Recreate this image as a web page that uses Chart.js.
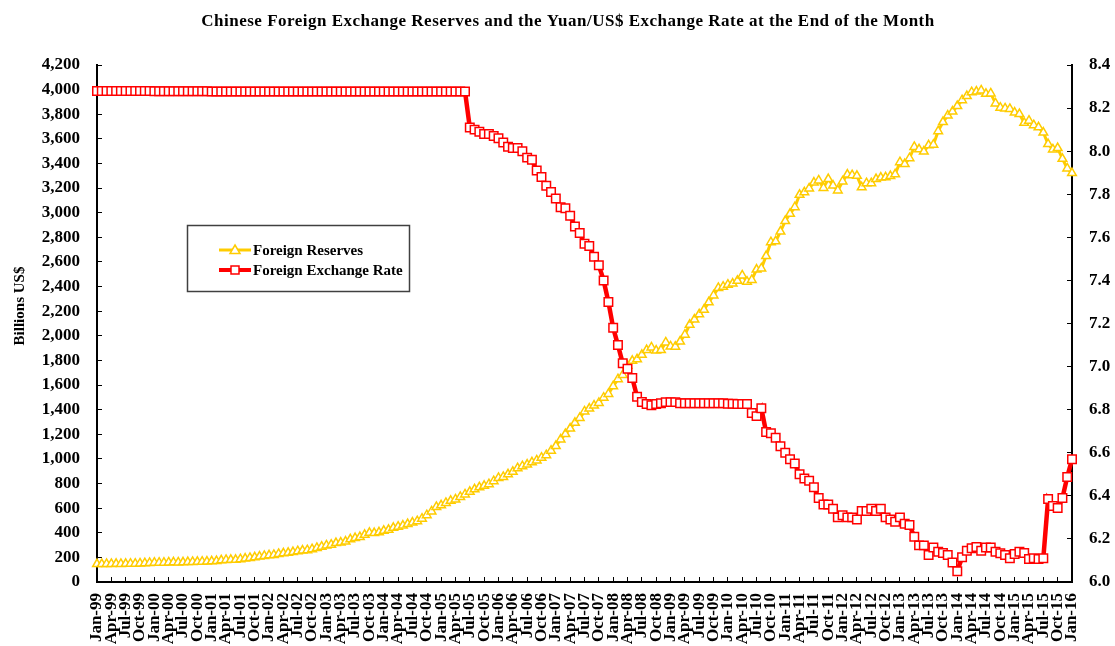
<!DOCTYPE html>
<html><head><meta charset="utf-8">
<script src="https://cdn.jsdelivr.net/npm/chart.js@4.4.1/dist/chart.umd.min.js"></script>
<style>html,body{margin:0;padding:0;background:#fff;overflow:hidden}#wrap{position:relative;width:1115px;height:646px}</style>
</head><body><div id="wrap"><canvas id="c" width="1115" height="646"></canvas></div>
<script>
const TITLE = 'Chinese Foreign Exchange Reserves and the Yuan/US$ Exchange Rate at the End of the Month';
const Y_TITLE = 'Billions US$';
const MONTHS = ['Jan','Feb','Mar','Apr','May','Jun','Jul','Aug','Sep','Oct','Nov','Dec'];
const YEARS = ['99','00','01','02','03','04','05','06','07','08','09','10','11','12','13','14','15','16'];
const categories = [];
YEARS.forEach(function (y, yi) {
  MONTHS.forEach(function (m, mi) {
    if (yi === YEARS.length - 1 && mi > 0) return;
    categories.push(m + '-' + y);
  });
});

// Foreign reserves, billions US$ (left axis)
const reserves = [
  145.3,146.0,146.6,147.0,147.3,147.2,147.9,148.5,149.2,151.0,152.9,154.7,
  157.0,157.1,156.8,158.5,160.0,158.6,160.0,161.6,162.7,163.9,164.9,165.6,
  168.3,170.1,175.8,178.8,180.3,180.0,185.3,190.0,195.1,200.8,207.0,212.2,
  217.0,220.0,228.0,233.0,237.0,242.8,250.0,255.0,258.6,267.0,277.0,286.4,
  297.0,303.0,316.1,320.0,329.0,346.5,356.5,364.7,383.8,400.0,398.0,403.3,
  415.7,424.1,439.8,449.8,458.0,470.6,483.0,494.3,514.5,542.5,573.3,609.9,
  623.5,642.6,659.1,670.3,691.0,711.0,732.7,753.3,769.0,781.4,794.4,818.9,
  845.2,853.7,875.1,895.0,925.0,941.1,954.5,972.0,987.9,1009.6,1030.6,1066.3,
  1104.7,1158.0,1202.0,1246.7,1292.7,1332.6,1385.2,1408.6,1433.6,1454.9,1497.0,1528.2,
  1589.8,1647.1,1682.2,1756.7,1797.0,1808.8,1845.2,1884.2,1905.6,1879.7,1884.7,1946.0,
  1913.5,1912.1,1953.7,2008.9,2089.5,2131.6,2174.6,2210.8,2272.6,2328.3,2388.9,2399.2,
  2415.2,2424.6,2447.1,2490.5,2439.5,2454.3,2538.6,2547.8,2648.3,2760.9,2767.8,2847.3,
  2931.7,2991.4,3044.7,3145.3,3166.2,3197.5,3245.3,3262.5,3201.7,3273.8,3220.9,3181.1,
  3253.6,3309.6,3305.0,3299.4,3206.1,3240.0,3240.0,3272.9,3285.1,3287.4,3297.7,3311.6,
  3410.0,3395.4,3442.6,3534.5,3514.8,3496.7,3547.8,3553.0,3662.7,3736.6,3789.5,3821.3,
  3866.4,3913.7,3948.1,3978.8,3983.9,3993.2,3966.3,3968.8,3887.7,3852.9,3847.4,3843.0,
  3813.4,3801.5,3730.0,3748.1,3711.1,3693.8,3651.3,3557.4,3514.1,3525.5,3438.3,3360.0,
  3322.0
];

// Yuan per US$ (right axis)
const exchangeRate = [
  8.279,8.279,8.279,8.279,8.279,8.279,8.279,8.279,8.279,8.279,8.279,8.279,
  8.278,8.278,8.278,8.278,8.278,8.278,8.278,8.278,8.278,8.278,8.278,8.278,
  8.277,8.277,8.277,8.277,8.277,8.277,8.277,8.277,8.277,8.277,8.277,8.277,
  8.277,8.277,8.277,8.277,8.277,8.277,8.277,8.277,8.277,8.277,8.277,8.277,
  8.277,8.277,8.277,8.277,8.277,8.277,8.277,8.277,8.277,8.277,8.277,8.277,
  8.277,8.277,8.277,8.277,8.277,8.277,8.277,8.277,8.277,8.277,8.277,8.277,
  8.277,8.277,8.277,8.277,8.277,8.277,8.11,8.10,8.09,8.08,8.08,8.07,
  8.06,8.04,8.02,8.015,8.015,8.00,7.97,7.96,7.91,7.88,7.84,7.81,
  7.78,7.74,7.735,7.70,7.65,7.62,7.57,7.56,7.51,7.47,7.40,7.30,
  7.18,7.10,7.015,6.99,6.947,6.86,6.836,6.826,6.82,6.826,6.83,6.835,
  6.835,6.835,6.83,6.83,6.83,6.83,6.83,6.83,6.83,6.83,6.83,6.83,
  6.827,6.827,6.826,6.826,6.826,6.785,6.77,6.807,6.696,6.69,6.67,6.63,
  6.60,6.57,6.55,6.50,6.48,6.47,6.44,6.39,6.36,6.36,6.34,6.30,
  6.31,6.30,6.30,6.29,6.33,6.33,6.34,6.33,6.34,6.30,6.29,6.28,
  6.30,6.27,6.265,6.21,6.17,6.17,6.125,6.16,6.14,6.135,6.125,6.09,
  6.05,6.115,6.145,6.157,6.163,6.145,6.16,6.16,6.14,6.133,6.125,6.11,
  6.13,6.14,6.135,6.107,6.11,6.107,6.11,6.385,6.353,6.343,6.39,6.487,
  6.57
];

const leftTicks = { min: 0, max: 4200, step: 200 };
const rightTicks = { min: 6.0, max: 8.4, step: 0.1 };
const SERIES_NAMES = ['Foreign Reserves', 'Foreign Exchange Rate'];

const YELLOW = '#FFCC00';
const RED = '#FF0000';
const SERIF = '"Liberation Serif","Times New Roman",Times,serif';

const textPlugin = {
  id: 'refText',
  afterDraw(chart) {
    const ctx = chart.ctx;
    ctx.save();
    ctx.font = 'bold 17px ' + SERIF;
    if ('letterSpacing' in ctx) ctx.letterSpacing = '0.5px';
    ctx.fillStyle = '#000';
    ctx.textAlign = 'center';
    ctx.textBaseline = 'middle';
    ctx.fillText(TITLE, 568, 22);
    if ('letterSpacing' in ctx) ctx.letterSpacing = '0px';
    ctx.translate(20, 306);
    ctx.rotate(-Math.PI / 2);
    ctx.font = 'bold 15px ' + SERIF;
    ctx.fillText(Y_TITLE, 0, 0);
    ctx.restore();
  }
};

const legendPlugin = {
  id: 'refLegend',
  afterDraw(chart) {
    const ctx = chart.ctx;
    ctx.save();
    ctx.strokeStyle = '#404040';
    ctx.lineWidth = 1.5;
    ctx.strokeRect(187.5, 225.5, 222, 66);
    const rows = [
      { y: 250, color: YELLOW, shape: 'tri', lw: 3 },
      { y: 270, color: RED, shape: 'rect', lw: 4 }
    ];
    rows.forEach(function (r, i) {
      ctx.strokeStyle = r.color;
      ctx.lineWidth = r.lw;
      ctx.beginPath();
      ctx.moveTo(219, r.y);
      ctx.lineTo(251, r.y);
      ctx.stroke();
      ctx.fillStyle = '#fff';
      ctx.lineWidth = 1.5;
      ctx.beginPath();
      if (r.shape === 'tri') {
        ctx.moveTo(235, r.y - 5);
        ctx.lineTo(240, r.y + 3.5);
        ctx.lineTo(230, r.y + 3.5);
        ctx.closePath();
      } else {
        ctx.rect(231, r.y - 4, 8, 8);
      }
      ctx.fill();
      ctx.stroke();
      ctx.fillStyle = '#000';
      ctx.font = 'bold 15px ' + SERIF;
      ctx.textAlign = 'left';
      ctx.textBaseline = 'middle';
      ctx.fillText(SERIES_NAMES[i], 253, r.y + 1);
    });
    ctx.restore();
  }
};

new Chart(document.getElementById('c'), {
  type: 'line',
  data: {
    labels: categories,
    datasets: [
      {
        label: SERIES_NAMES[0],
        data: reserves,
        yAxisID: 'y',
        order: 2,
        borderColor: YELLOW,
        borderWidth: 3,
        pointStyle: 'triangle',
        pointRadius: 5,
        pointBorderWidth: 1.5,
        pointBackgroundColor: '#fff',
        pointBorderColor: YELLOW,
        tension: 0,
        clip: false
      },
      {
        label: SERIES_NAMES[1],
        data: exchangeRate,
        yAxisID: 'y1',
        order: 1,
        borderColor: RED,
        borderWidth: 4.5,
        pointStyle: 'rect',
        pointRadius: 6,
        pointBorderWidth: 1.5,
        pointBackgroundColor: '#fff',
        pointBorderColor: RED,
        tension: 0,
        clip: false
      }
    ]
  },
  options: {
    responsive: false,
    animation: false,
    events: [],
    layout: { padding: { top: 65, left: 0, right: 0, bottom: 0 } },
    plugins: {
      legend: { display: false },
      tooltip: { enabled: false },
      title: { display: false }
    },
    scales: {
      x: {
        type: 'category',
        offset: false,
        grid: { display: true, drawOnChartArea: false, drawTicks: true, tickLength: -5, color: '#000', lineWidth: 1 },
        border: { display: true, color: '#000', width: 2 },
        ticks: {
          autoSkip: false, minRotation: 90, maxRotation: 90, padding: 16,
          color: '#000', font: { family: SERIF, size: 17, weight: 'bold' },
          callback: function (v, i) { return i % 3 === 0 ? categories[i] : null; }
        },
        afterFit: function (s) { s.height = 64; }
      },
      y: {
        position: 'left',
        min: leftTicks.min, max: leftTicks.max,
        grid: { drawOnChartArea: false, drawTicks: true, tickLength: -5, color: '#000', lineWidth: 1 },
        border: { display: true, color: '#000', width: 2 },
        ticks: {
          stepSize: leftTicks.step, padding: 22, color: '#000',
          font: { family: SERIF, size: 17, weight: 'bold' },
          callback: function (v) { return Number(v).toLocaleString('en-US'); }
        },
        afterFit: function (s) { s.width = 97; }
      },
      y1: {
        position: 'right',
        min: rightTicks.min, max: rightTicks.max,
        grid: { drawOnChartArea: false, drawTicks: true, tickLength: -5, color: '#000', lineWidth: 1 },
        border: { display: true, color: '#000', width: 2 },
        ticks: {
          stepSize: rightTicks.step, padding: 22, color: '#000',
          font: { family: SERIF, size: 17, weight: 'bold' },
          callback: function (v) { return Number(v).toFixed(1); }
        },
        afterFit: function (s) { s.width = 43; }
      }
    }
  },
  plugins: [textPlugin, legendPlugin]
});
</script>
</body></html>
